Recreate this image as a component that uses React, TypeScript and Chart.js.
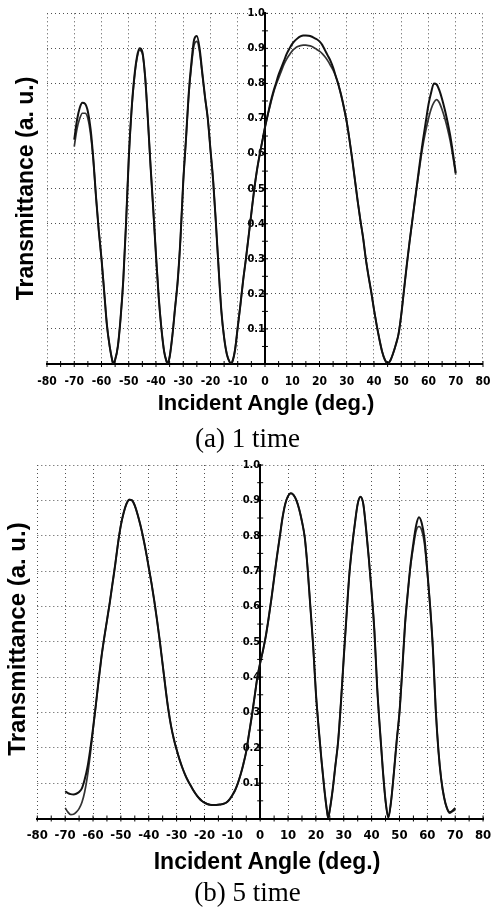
import React, { useEffect, useRef } from "react";
import { Chart, registerables } from "chart.js";
Chart.register(...registerables);

// ---------- (a) 1 time ----------
const anglesA = [
  -70, -69, -68, -67, -66, -65, -64, -63, -62, -61,
  -60, -59, -58, -57, -56, -55.8, -55, -54, -53, -52,
  -51, -50, -49, -48, -47, -46, -45, -44, -43, -42,
  -41, -40, -39, -38, -37, -36, -35.9, -35, -34, -33,
  -32, -31, -30, -29, -28, -27, -26, -25, -24, -23,
  -22, -21, -20, -19, -18, -17, -16, -15, -14, -13,
  -12.5, -12, -11, -10, -9, -8, -7, -6, -5, -4,
  -3, -2, -1, 0, 1, 2, 3, 4, 5, 6,
  7, 8, 9, 10, 11, 12, 13, 14, 15, 16,
  17, 18, 19, 20, 21, 22, 23, 24, 25, 26,
  27, 28, 29, 30, 31, 32, 33, 34, 35, 36,
  37, 38, 39, 40, 41, 42, 43, 44, 45, 46,
  47, 48, 49, 50, 51, 52, 53, 54, 55, 56,
  57, 58, 59, 60, 61, 62, 63, 64, 65, 66,
  67, 68, 69, 70,
];
const transA1 = [
  0.64, 0.695, 0.73, 0.745, 0.742, 0.72, 0.67, 0.585, 0.475, 0.38,
  0.30, 0.205, 0.11, 0.05, 0.008, 0.002, 0.012, 0.05, 0.13, 0.24,
  0.40, 0.585, 0.72, 0.815, 0.875, 0.90, 0.89, 0.82, 0.70, 0.565,
  0.44, 0.31, 0.19, 0.10, 0.035, 0.004, 0.002, 0.02, 0.08, 0.16,
  0.24, 0.36, 0.52, 0.64, 0.77, 0.86, 0.925, 0.935, 0.90, 0.83,
  0.76, 0.70, 0.61, 0.52, 0.40, 0.27, 0.15, 0.075, 0.028, 0.006,
  0.002, 0.006, 0.04, 0.105, 0.17, 0.24, 0.30, 0.365, 0.43, 0.495,
  0.55, 0.595, 0.635, 0.675, 0.71, 0.745, 0.775, 0.80, 0.825, 0.845,
  0.865, 0.885, 0.90, 0.913, 0.922, 0.929, 0.934, 0.937, 0.937, 0.936,
  0.934, 0.93, 0.926, 0.92, 0.91, 0.895, 0.88, 0.865, 0.845, 0.82,
  0.795, 0.765, 0.73, 0.69, 0.64, 0.585, 0.525, 0.465, 0.41, 0.36,
  0.30, 0.25, 0.205, 0.155, 0.11, 0.07, 0.035, 0.012, 0.002, 0.01,
  0.03, 0.055, 0.085, 0.14, 0.21, 0.28, 0.345, 0.405, 0.465, 0.525,
  0.585, 0.64, 0.69, 0.74, 0.775, 0.80, 0.797, 0.78, 0.755, 0.725,
  0.69, 0.65, 0.60, 0.545,
];
const transA2 = [
  0.62, 0.67, 0.70, 0.715, 0.715, 0.70, 0.655, 0.58, 0.475, 0.38,
  0.30, 0.205, 0.11, 0.05, 0.008, 0.002, 0.012, 0.05, 0.13, 0.24,
  0.40, 0.585, 0.72, 0.81, 0.87, 0.895, 0.885, 0.82, 0.70, 0.565,
  0.44, 0.31, 0.19, 0.10, 0.035, 0.004, 0.002, 0.02, 0.08, 0.16,
  0.24, 0.36, 0.52, 0.64, 0.765, 0.85, 0.91, 0.92, 0.89, 0.825,
  0.76, 0.70, 0.61, 0.52, 0.40, 0.27, 0.15, 0.075, 0.028, 0.006,
  0.002, 0.006, 0.04, 0.105, 0.17, 0.24, 0.30, 0.365, 0.43, 0.495,
  0.55, 0.595, 0.635, 0.675, 0.71, 0.74, 0.77, 0.795, 0.815, 0.835,
  0.855, 0.87, 0.882, 0.893, 0.90, 0.905, 0.908, 0.909, 0.909, 0.908,
  0.906, 0.902, 0.897, 0.892, 0.885, 0.876, 0.865, 0.852, 0.838, 0.82,
  0.795, 0.765, 0.73, 0.69, 0.64, 0.585, 0.525, 0.465, 0.41, 0.36,
  0.30, 0.25, 0.205, 0.155, 0.11, 0.07, 0.035, 0.012, 0.002, 0.01,
  0.03, 0.055, 0.085, 0.14, 0.21, 0.28, 0.345, 0.405, 0.465, 0.52,
  0.575, 0.625, 0.665, 0.70, 0.728, 0.746, 0.754, 0.745, 0.725, 0.70,
  0.67, 0.635, 0.59, 0.54,
];

// ---------- (b) 5 time ----------
const anglesB = [
  -70, -69, -68, -67, -66, -65, -64, -63, -62, -61,
  -60, -59, -58, -57, -56, -55, -54, -53, -52, -51,
  -50, -49, -48, -47, -46, -45, -44, -43, -42, -41,
  -40, -39, -38, -37, -36, -35, -34, -33, -32, -31,
  -30, -29, -28, -27, -26, -25, -24, -23, -22, -21,
  -20, -19, -18, -17, -16, -15, -14, -13, -12, -11,
  -10, -9, -8, -7, -6, -5, -4, -3, -2, -1,
  0, 1, 2, 3, 4, 5, 6, 7, 8, 9,
  10, 11, 12, 13, 14, 15, 16, 17, 18, 19,
  20, 21, 22, 23, 24, 24.4, 25, 26, 27, 28,
  29, 30, 31, 32, 33, 34, 35, 36, 37, 38,
  39, 40, 41, 42, 43, 44, 45, 46, 47, 48,
  49, 50, 51, 52, 53, 54, 55, 56, 57, 58,
  59, 60, 61, 62, 63, 64, 65, 66, 67, 68,
  69, 70,
];
const transB1 = [
  0.077, 0.072, 0.069, 0.068, 0.07, 0.075, 0.085, 0.11, 0.145, 0.195,
  0.255, 0.32, 0.39, 0.455, 0.51, 0.56, 0.61, 0.665, 0.72, 0.78,
  0.83, 0.865, 0.89, 0.902, 0.90, 0.885, 0.86, 0.83, 0.795, 0.755,
  0.71, 0.665, 0.615, 0.56, 0.50, 0.435, 0.37, 0.31, 0.262, 0.225,
  0.195, 0.168, 0.145, 0.125, 0.108, 0.094, 0.08, 0.068, 0.058, 0.05,
  0.045, 0.041, 0.039, 0.038, 0.038, 0.039, 0.04, 0.042, 0.046, 0.054,
  0.066, 0.08, 0.10, 0.125, 0.155, 0.19, 0.24, 0.29, 0.345, 0.40,
  0.44, 0.475, 0.515, 0.565, 0.62, 0.68, 0.74, 0.795, 0.85, 0.89,
  0.912, 0.92, 0.915, 0.90, 0.875, 0.84, 0.795, 0.71, 0.60, 0.49,
  0.355, 0.255, 0.165, 0.085, 0.02, 0.002, 0.025, 0.08, 0.15, 0.22,
  0.33, 0.455, 0.575, 0.69, 0.77, 0.835, 0.89, 0.91, 0.89, 0.82,
  0.735, 0.64, 0.53, 0.37, 0.25, 0.14, 0.05, 0.003, 0.05, 0.13,
  0.22, 0.30, 0.42, 0.55, 0.64, 0.72, 0.78, 0.83, 0.852, 0.835,
  0.79, 0.70, 0.60, 0.48, 0.31, 0.19, 0.11, 0.06, 0.03, 0.018,
  0.022, 0.03,
];
const transB2 = [
  0.03, 0.018, 0.011, 0.012, 0.018, 0.028, 0.045, 0.075, 0.12, 0.18,
  0.25, 0.32, 0.39, 0.455, 0.51, 0.56, 0.61, 0.665, 0.72, 0.78,
  0.83, 0.865, 0.89, 0.902, 0.90, 0.885, 0.86, 0.83, 0.795, 0.755,
  0.71, 0.665, 0.615, 0.56, 0.50, 0.435, 0.37, 0.31, 0.262, 0.225,
  0.195, 0.168, 0.145, 0.125, 0.108, 0.094, 0.08, 0.068, 0.058, 0.05,
  0.045, 0.041, 0.039, 0.038, 0.038, 0.039, 0.04, 0.042, 0.046, 0.054,
  0.066, 0.08, 0.10, 0.125, 0.155, 0.19, 0.24, 0.29, 0.345, 0.40,
  0.44, 0.475, 0.515, 0.565, 0.62, 0.68, 0.74, 0.795, 0.85, 0.89,
  0.912, 0.92, 0.915, 0.90, 0.875, 0.84, 0.795, 0.71, 0.60, 0.49,
  0.355, 0.255, 0.165, 0.085, 0.02, 0.002, 0.025, 0.08, 0.15, 0.22,
  0.33, 0.455, 0.575, 0.69, 0.77, 0.835, 0.89, 0.91, 0.89, 0.82,
  0.735, 0.64, 0.53, 0.37, 0.25, 0.14, 0.05, 0.003, 0.05, 0.13,
  0.22, 0.30, 0.42, 0.55, 0.64, 0.715, 0.77, 0.815, 0.826, 0.815,
  0.775, 0.695, 0.60, 0.48, 0.31, 0.19, 0.11, 0.06, 0.03, 0.015,
  0.02, 0.025,
];

const xTickLabels = ["-80", "-70", "-60", "-50", "-40", "-30", "-20", "-10", "0", "10", "20", "30", "40", "50", "60", "70", "80"];
const yTickLabels = ["", "0.1", "0.2", "0.3", "0.4", "0.5", "0.6", "0.7", "0.8", "0.9", "1.0"];

const xTitle = "Incident Angle (deg.)";
const yTitle = "Transmittance (a. u.)";
const captionA = "(a) 1 time";
const captionB = "(b) 5 time";

const TICK_FONT = "'Liberation Sans Narrow', 'DejaVu Sans Condensed', 'Liberation Sans', sans-serif";
const TITLE_FONT = "'Liberation Sans', Arial, sans-serif";
const SERIF_FONT = "'Liberation Serif', 'Times New Roman', serif";

const axisMarks = {
  id: "axisMarks",
  afterDatasetsDraw(chart: any) {
    const { ctx, scales } = chart;
    const xs = scales.x;
    const ys = scales.y;
    const x0 = xs.getPixelForValue(0);
    const yb = ys.getPixelForValue(0);
    ctx.save();
    ctx.strokeStyle = "#000";
    ctx.lineWidth = 1;
    ctx.beginPath();
    for (let i = 0; i <= 32; i++) {
      const px = xs.getPixelForValue(-80 + i * 5);
      ctx.moveTo(px, yb - 3);
      ctx.lineTo(px, yb + 3);
    }
    for (let i = 0; i <= 20; i++) {
      const py = ys.getPixelForValue(i * 0.05);
      ctx.moveTo(x0 - 3, py);
      ctx.lineTo(x0 + 3, py);
    }
    ctx.stroke();
    ctx.restore();
  },
};

type PanelProps = {
  top: number;
  height: number;
  padding: { left: number; right: number; top: number; bottom: number };
  angles: number[];
  s1: number[];
  s2: number[];
  xFontSize: number;
  yFontSize: number;
  tickPad: number;
};

function Panel({ top, height, padding, angles, s1, s2, xFontSize, yFontSize, tickPad }: PanelProps) {
  const ref = useRef<HTMLCanvasElement | null>(null);
  useEffect(() => {
    if (!ref.current) return;
    const d1 = angles.map((a, i) => ({ x: a, y: s1[i] }));
    const d2 = angles.map((a, i) => ({ x: a, y: s2[i] }));
    const chart = new Chart(ref.current, {
      type: "line",
      data: {
        datasets: [
          {
            data: d1,
            borderColor: "#111",
            borderWidth: 2,
            pointRadius: 0,
            fill: false,
            cubicInterpolationMode: "monotone",
          },
          {
            data: d2,
            borderColor: "#333",
            borderWidth: 1.7,
            pointRadius: 0,
            fill: false,
            cubicInterpolationMode: "monotone",
          },
        ],
      },
      options: {
        animation: false,
        responsive: false,
        devicePixelRatio: 1,
        layout: { padding },
        plugins: { legend: { display: false }, tooltip: { enabled: false }, title: { display: false } },
        scales: {
          x: {
            type: "linear",
            min: -80,
            max: 80,
            afterFit: (s: any) => {
              s.height = 30;
            },
            ticks: {
              stepSize: 10,
              autoSkip: false,
              maxRotation: 0,
              padding: tickPad,
              color: "#000",
              font: { family: TICK_FONT, size: xFontSize, weight: "bold" },
              callback: (_v: any, i: number) => xTickLabels[i],
            },
            grid: { color: "#505050", lineWidth: 1, drawTicks: false },
            border: { display: true, color: "#000", width: 2, dash: [1, 3] },
          },
          y: {
            type: "linear",
            min: 0,
            max: 1,
            position: { x: 0 } as any,
            ticks: {
              stepSize: 0.1,
              autoSkip: false,
              padding: 0,
              color: "#000",
              font: { family: TICK_FONT, size: yFontSize, weight: "bold" },
              callback: (_v: any, i: number) => yTickLabels[i],
            },
            grid: { color: "#505050", lineWidth: 1, drawTicks: false },
            border: { display: true, color: "#000", width: 2, dash: [1, 3] },
          },
        },
      } as any,
      plugins: [axisMarks],
    });
    return () => chart.destroy();
  }, []);
  return (
    <canvas
      ref={ref}
      width={501}
      height={height}
      style={{ position: "absolute", left: 0, top, width: 501, height }}
    />
  );
}

function HText({ text, cx, top, size, font, weight }: { text: string; cx: number; top: number; size: number; font: string; weight: string }) {
  return (
    <div
      style={{
        position: "absolute",
        left: cx - 200,
        top,
        width: 400,
        height: size,
        lineHeight: size + "px",
        fontSize: size,
        fontFamily: font,
        fontWeight: weight as any,
        textAlign: "center",
        whiteSpace: "nowrap",
        color: "#000",
      }}
    >
      {text}
    </div>
  );
}

function VText({ text, cx, cy, size }: { text: string; cx: number; cy: number; size: number }) {
  return (
    <div
      style={{
        position: "absolute",
        left: cx - 150,
        top: cy - size / 2,
        width: 300,
        height: size,
        lineHeight: size + "px",
        fontSize: size,
        fontFamily: TITLE_FONT,
        fontWeight: "bold",
        textAlign: "center",
        whiteSpace: "nowrap",
        transform: "rotate(-90deg)",
        transformOrigin: "50% 50%",
        color: "#000",
      }}
    >
      {text}
    </div>
  );
}

export default function App() {
  return (
    <div style={{ position: "absolute", left: 0, top: 0, width: 501, height: 908, background: "#fff", overflow: "hidden" }}>
      <Panel
        top={0}
        height={400}
        padding={{ left: 47, right: 17.5, top: 13.3, bottom: 6 }}
        angles={anglesA}
        s1={transA1}
        s2={transA2}
        xFontSize={12}
        yFontSize={11}
        tickPad={10.5}
      />
      <Panel
        top={440}
        height={410}
        padding={{ left: 37.3, right: 6, top: 25, bottom: 1.5 }}
        angles={anglesB}
        s1={transB1}
        s2={transB2}
        xFontSize={13}
        yFontSize={11}
        tickPad={9.8}
      />
      <VText text={yTitle} cx={25} cy={188.5} size={23} />
      <VText text={yTitle} cx={16.7} cy={639} size={24} />
      <HText text={xTitle} cx={266} top={392.4} size={22} font={TITLE_FONT} weight="bold" />
      <HText text={xTitle} cx={267} top={849.5} size={23} font={TITLE_FONT} weight="bold" />
      <HText text={captionA} cx={247.5} top={425.4} size={27} font={SERIF_FONT} weight="normal" />
      <HText text={captionB} cx={247.5} top={879.4} size={27} font={SERIF_FONT} weight="normal" />
    </div>
  );
}
